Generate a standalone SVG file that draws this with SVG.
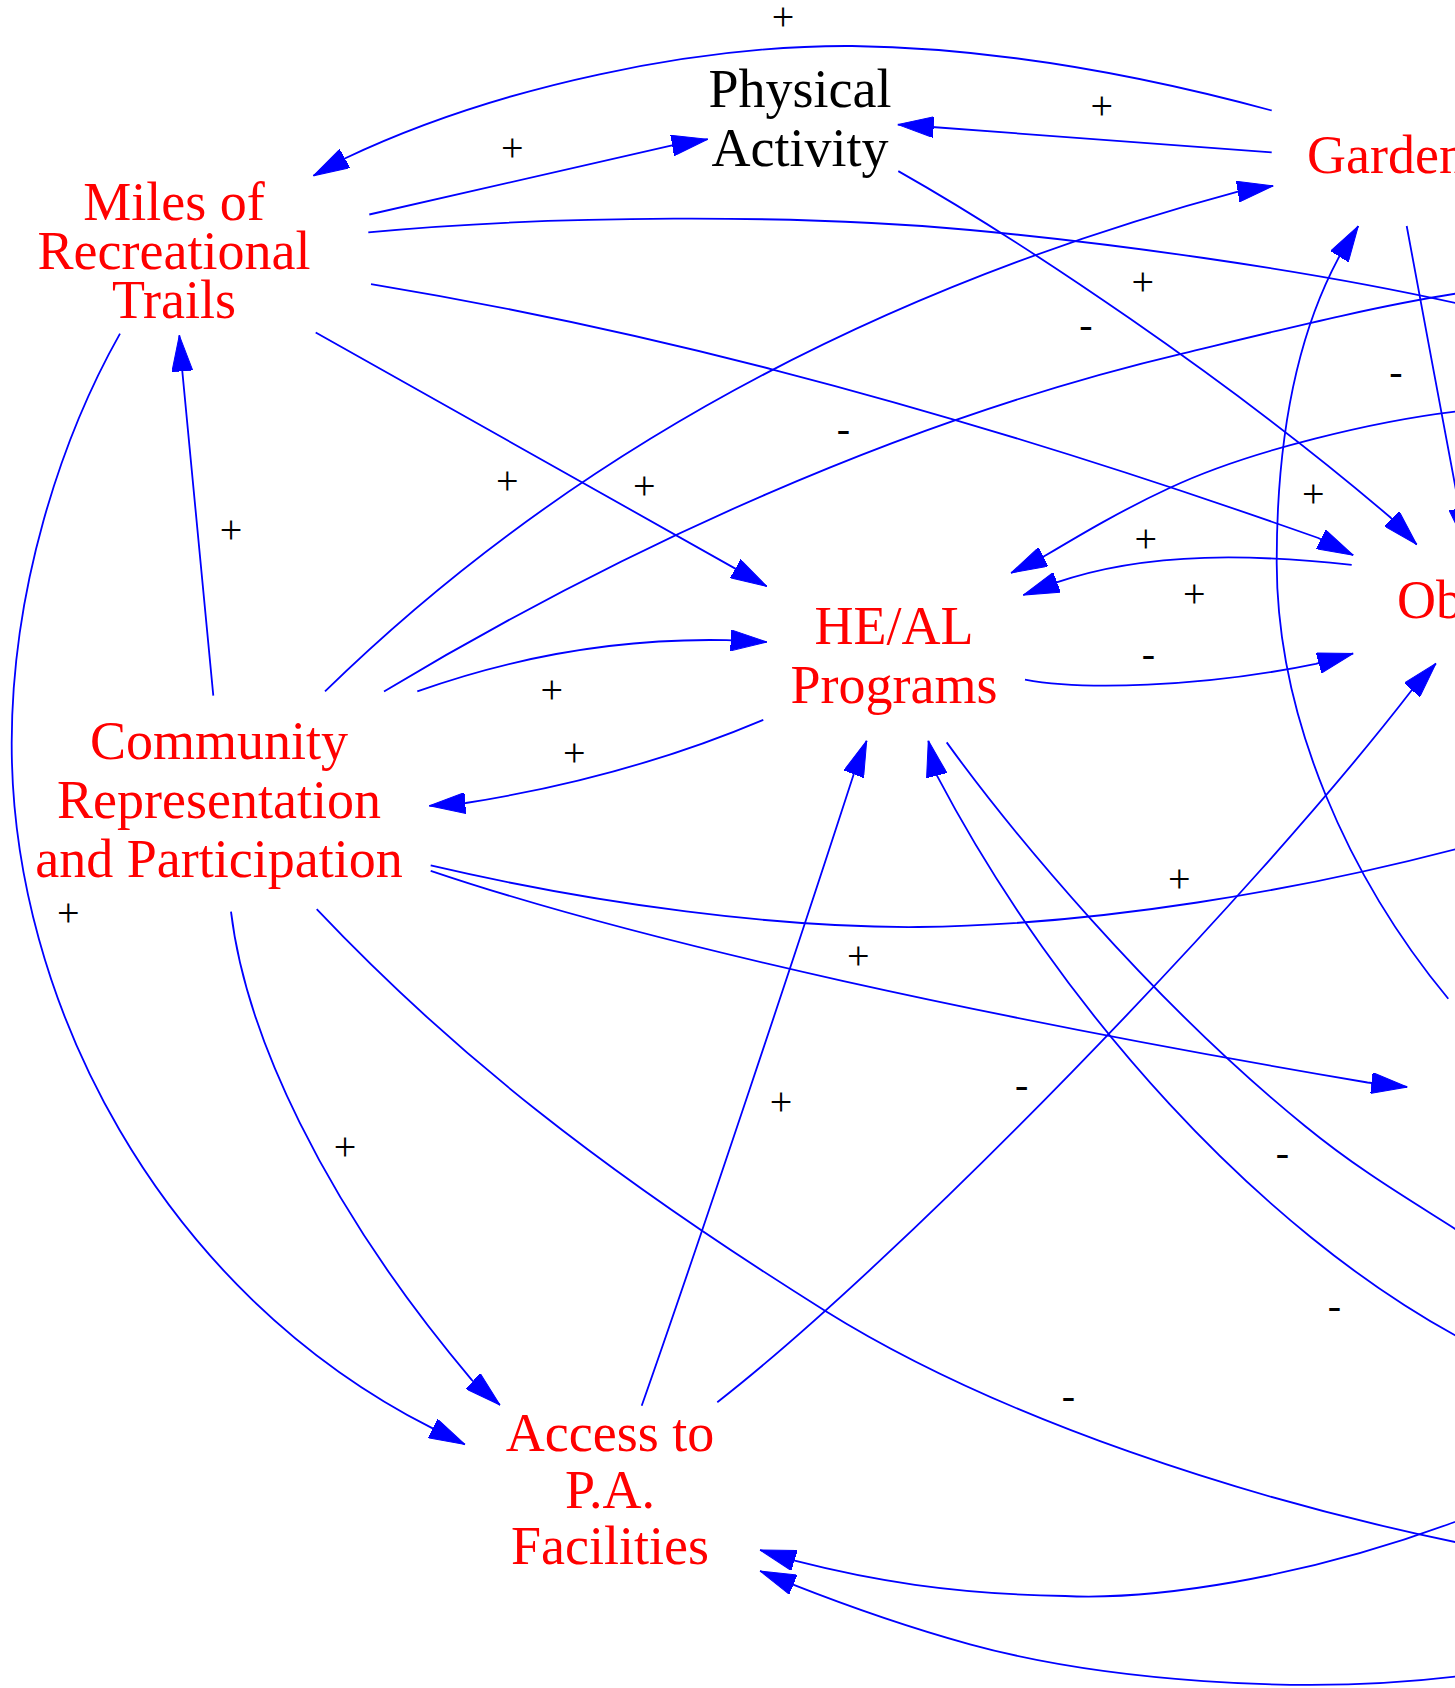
<svg xmlns="http://www.w3.org/2000/svg" width="1455" height="1688" viewBox="0 0 1455 1688">
<style>
.n text{font-family:"Liberation Serif","Times New Roman",serif;font-size:54px;fill:#ff0000;text-anchor:middle}
.n.blk text{fill:#000000}
.n.st text{text-anchor:start}
#edges path{fill:none;stroke:#0000ff;stroke-width:1.8}
#edges path.a{marker-end:url(#ah)}
.lbl text{font-family:"Liberation Serif","Times New Roman",serif;font-size:40px;fill:#000000;text-anchor:middle}
</style>
<defs>
<marker id="ah" markerUnits="userSpaceOnUse" viewBox="0 0 36 21" refX="36" refY="10.5" markerWidth="36" markerHeight="21" orient="auto">
<path d="M0,0 L36,10.5 L0,21 z" fill="#0000ff" stroke="#0000ff" stroke-width="1"/>
</marker>
</defs>
<rect width="1455" height="1688" fill="#ffffff"/>
<g id="edges">
<path class="a" d="M1271.7,110.5 C1130,72 990,48 852,46 C700,45 500,85 345.3,158.2 L313.3,175.8"/>
<path class="a" d="M1271.7,152.4 L932,127 L897.7,124.6"/>
<path class="a" d="M369.3,214.5 L671,145.7 L707.7,139.2"/>
<path d="M368.3,232.4 C550,215 800,214 970,230 C1100,242 1300,268 1460,304"/>
<path class="a" d="M898.3,171.1 C1020,240 1230,380 1390.8,517.8 L1416.7,544.5"/>
<path class="a" d="M371,284.1 C600,322 900,390 1318.3,538 L1353.3,555.3"/>
<path class="a" d="M315.7,332.5 L735.3,568.6 L766.7,586.3"/>
<path class="a" d="M325,691.4 C480,540 760,320 1238.8,191.4 L1273.3,185.8"/>
<path d="M384,691.4 C620,550 900,420 1183.3,353.3 C1280,330 1380,305 1460,293"/>
<path class="a" d="M417.3,691.4 C520,655 620,638 726.7,640.2 L766.7,642"/>
<path class="a" d="M763.3,719.8 C680,755 580,785 465.8,803 L429.3,805.8"/>
<path class="a" d="M213.3,695.7 L182.2,370.2 L179.3,335.4"/>
<path class="a" d="M120,333.6 C60,440 12,590 11.7,742.4 C11,1000 160,1290 431.7,1427.9 L465,1444.5"/>
<path class="a" d="M231,911.7 C245,1030 320,1200 471.7,1379.8 L500,1405"/>
<path d="M316.7,909.2 C450,1050 600,1170 825,1310.7 C1000,1420 1250,1500 1460,1543"/>
<path d="M430.7,865.4 C600,905 780,928 918,927 C1100,925 1300,890 1460,848"/>
<path class="a" d="M430.7,870.8 C650,945 1000,1020 1367.5,1082.5 L1407.3,1087"/>
<path class="a" d="M641.7,1405.8 C700,1240 800,940 853.7,774.3 L866.7,740.6"/>
<path class="a" d="M717.3,1402.2 C900,1260 1250,900 1411.7,690.3 L1436,663.4"/>
<path class="a" d="M1025,679.6 C1080,690 1200,688 1315.8,663.8 L1353.3,653.4"/>
<path class="a" d="M1351.7,564.8 C1260,555 1150,550 1055.8,582.7 L1023.3,595"/>
<path class="a" d="M1460,411 C1380,420 1250,450 1170,487.8 C1120,511 1080,535 1043.2,556.9 L1011,573"/>
<path class="a" d="M1406.7,226 C1420,300 1445,430 1459.5,509 L1465.5,544"/>
<path class="a" d="M1448.3,998.8 C1350,880 1277,720 1276.7,563 C1276.5,430 1300,330 1338.3,258.3 L1358.3,226"/>
<path d="M946.7,742.4 C1010,830 1150,1000 1305,1126 C1360,1171 1410,1200 1460,1232"/>
<path class="a" d="M1460,1338 C1260,1230 1060,1010 936.7,775.2 L928.3,740.6"/>
<path class="a" d="M1460,1520 C1300,1580 1150,1600 1065,1596 C950,1594 870,1580 794.7,1560.7 L760,1550"/>
<path class="a" d="M1460,1676 C1300,1696 1100,1680 970,1644.3 C900,1625 840,1603 792.5,1584.3 L760,1571"/>
</g>
<g class="lbl" id="labels">
<text x="783" y="29.7">+</text>
<text x="1101.7" y="119.4">+</text>
<text x="512.3" y="160.7">+</text>
<text x="1142.7" y="295.2">+</text>
<text x="507.3" y="494.3">+</text>
<text x="644.3" y="498.6">+</text>
<text x="1313.3" y="506.8">+</text>
<text x="1145.7" y="551.7">+</text>
<text x="231" y="543.4">+</text>
<text x="1194.3" y="607.1">+</text>
<text x="551.7" y="702.9">+</text>
<text x="574.3" y="765.6">+</text>
<text x="68.3" y="926.3">+</text>
<text x="1179.3" y="891.5">+</text>
<text x="858.3" y="969.4">+</text>
<text x="781" y="1114.7">+</text>
<text x="345" y="1160.4">+</text>
<text x="1086" y="338.3">-</text>
<text x="1396" y="384.9">-</text>
<text x="843.3" y="442.3">-</text>
<text x="1148.3" y="667.1">-</text>
<text x="1021.7" y="1097.5">-</text>
<text x="1282.3" y="1165.5">-</text>
<text x="1334.3" y="1318.7">-</text>
<text x="1068.3" y="1408.7">-</text>
</g>
<g class="n blk" id="node-physical-activity"><text x="800" y="106.9">Physical</text><text x="800" y="166.1">Activity</text></g>
<g class="n st" id="node-garden"><text x="1307" y="173">Garden</text></g>
<g class="n" id="node-miles"><text x="174" y="219.5">Miles of</text><text x="174" y="269">Recreational</text><text x="174" y="318">Trails</text></g>
<g class="n" id="node-heal"><text x="894" y="643.7">HE/AL</text><text x="894" y="702.9">Programs</text></g>
<g class="n st" id="node-ob"><text x="1397" y="617.5">Ob</text></g>
<g class="n" id="node-community"><text x="219" y="758.5">Community</text><text x="219" y="817.7">Representation</text><text x="219" y="876.9">and Participation</text></g>
<g class="n" id="node-access"><text x="610" y="1450.6">Access to</text><text x="610" y="1508">P.A.</text><text x="610" y="1563.6">Facilities</text></g>
</svg>
